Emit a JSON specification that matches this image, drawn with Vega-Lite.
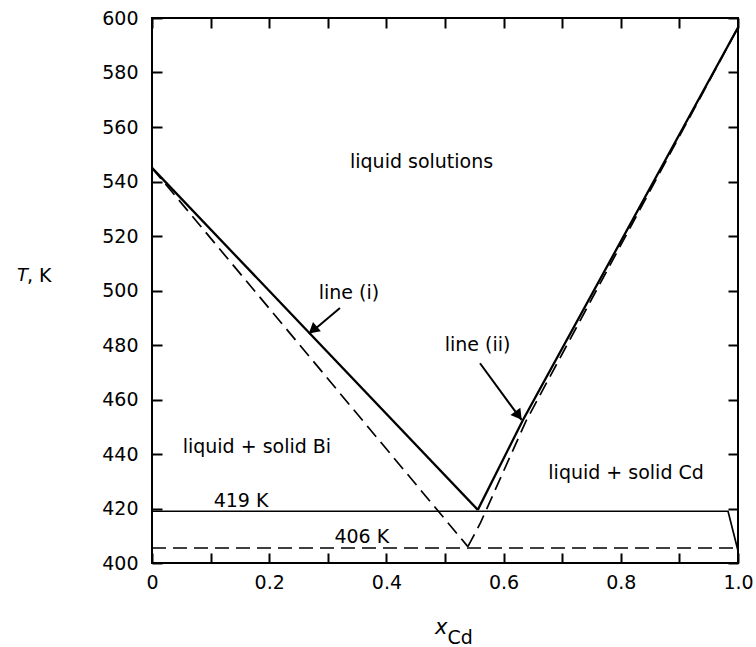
{
  "$schema": "https://vega.github.io/schema/vega-lite/v6.json",
  "width": 586,
  "height": 545,
  "autosize": {"type": "none"},
  "padding": {"left": 152, "top": 18, "right": 18, "bottom": 84},
  "background": "white",
  "config": {
    "view": {"stroke": "black", "strokeWidth": 2},
    "font": "DejaVu Sans"
  },
  "datasets": {
    "curves": [
      {"curve": "liquidus Bi", "x": 0, "T": 545, "i": 0},
      {"curve": "liquidus Bi", "x": 0.556, "T": 419.5, "i": 1},
      {"curve": "liquidus Cd", "x": 0.556, "T": 419.5, "i": 0},
      {"curve": "liquidus Cd", "x": 0.633, "T": 452.5, "i": 1},
      {"curve": "liquidus Cd", "x": 1.0, "T": 596.5, "i": 2},
      {"curve": "eutectic 419 K", "x": 0, "T": 419, "i": 0},
      {"curve": "eutectic 419 K", "x": 0.983, "T": 419, "i": 1},
      {"curve": "eutectic 419 K", "x": 1.0, "T": 404.5, "i": 2},
      {"curve": "ideal liquidus Bi", "x": 0, "T": 545, "i": 0},
      {"curve": "ideal liquidus Bi", "x": 0.539, "T": 406, "i": 1},
      {"curve": "ideal liquidus Cd", "x": 0.539, "T": 406, "i": 0},
      {"curve": "ideal liquidus Cd", "x": 0.56, "T": 414.5, "i": 1},
      {"curve": "ideal liquidus Cd", "x": 0.638, "T": 452, "i": 2},
      {"curve": "ideal liquidus Cd", "x": 1.0, "T": 596.5, "i": 3},
      {"curve": "ideal eutectic 406 K", "x": 0, "T": 405.5, "i": 0},
      {"curve": "ideal eutectic 406 K", "x": 1.0, "T": 405.5, "i": 1}
    ],
    "arrows": [
      {"arrow": "i", "x": 0.3208, "T": 493.6, "i": 0},
      {"arrow": "i", "x": 0.268, "T": 484.0, "i": 1},
      {"arrow": "ii", "x": 0.5597, "T": 473.3, "i": 0},
      {"arrow": "ii", "x": 0.6306, "T": 452.5, "i": 1}
    ],
    "heads": [
      {"arrow": "i", "x": 0.2745, "T": 485.5},
      {"arrow": "ii", "x": 0.6255, "T": 454.1}
    ],
    "labels": [
      {"label": "liquid solutions", "x": 0.46, "T": 547.2},
      {"label": "line (i)", "x": 0.336, "T": 499.1},
      {"label": "line (ii)", "x": 0.5555, "T": 480},
      {"label": "liquid + solid Bi", "x": 0.179, "T": 442.6},
      {"label": "liquid + solid Cd", "x": 0.809, "T": 433},
      {"label": "419 K", "x": 0.152, "T": 422.8},
      {"label": "406 K", "x": 0.358, "T": 409.5}
    ],
    "titleItalic": [
      {"label": "x", "x": 0.4935, "T": 376.0},
      {"label": "T", "x": -0.2116, "T": 505.3}
    ],
    "titleRegular": [
      {"label": "Cd", "x": 0.5044, "T": 372.3},
      {"label": ", K", "x": -0.2133, "T": 505.3}
    ]
  },
  "resolve": {"axis": {"x": "independent", "y": "independent"}},
  "layer": [
    {
      "encoding": {
        "x": {
          "field": "x", "type": "quantitative",
          "scale": {"domain": [0, 1], "nice": false, "zero": false},
          "axis": {
            "orient": "bottom",
            "title": null,
            "grid": false,
            "domain": false,
            "ticks": true,
            "tickColor": "black",
            "tickWidth": 2,
            "tickSize": 10,
            "offset": -10,
            "labelColor": "black",
            "labelFont": "DejaVu Sans",
            "labelFontSize": 19,
            "labelFlush": false,
            "values": [0, 0.1, 0.2, 0.3, 0.4, 0.5, 0.6, 0.7, 0.8, 0.9, 1.0],
            "labelExpr": "abs(datum.value*10 - 2*round(datum.value*5)) < 0.01 ? (datum.value == 0 ? '0' : format(datum.value, '.1f')) : ''",
            "labelPadding": 10
          }
        },
        "y": {
          "field": "T", "type": "quantitative",
          "scale": {"domain": [400, 600], "nice": false, "zero": false},
          "axis": {
            "orient": "left",
            "title": null,
            "grid": false,
            "domain": false,
            "ticks": true,
            "tickColor": "black",
            "tickWidth": 2,
            "tickSize": 10,
            "offset": -10,
            "labelColor": "black",
            "labelFont": "DejaVu Sans",
            "labelFontSize": 19,
            "labelFlush": false,
            "values": [400, 420, 440, 460, 480, 500, 520, 540, 560, 580, 600],
            "labelPadding": 14
          }
        }
      },
      "layer": [
        {
          "data": {"name": "curves"},
          "transform": [{"filter": {"field": "curve", "oneOf": ["liquidus Bi", "liquidus Cd"]}}],
          "mark": {"type": "line", "color": "black", "strokeWidth": 2.3},
          "encoding": {"detail": {"field": "curve"}, "order": {"field": "i"}}
        },
        {
          "data": {"name": "curves"},
          "transform": [{"filter": {"field": "curve", "equal": "eutectic 419 K"}}],
          "mark": {"type": "line", "color": "black", "strokeWidth": 1.7},
          "encoding": {"detail": {"field": "curve"}, "order": {"field": "i"}}
        },
        {
          "data": {"name": "curves"},
          "transform": [{"filter": {"field": "curve", "oneOf": ["ideal liquidus Bi", "ideal liquidus Cd", "ideal eutectic 406 K"]}}],
          "mark": {"type": "line", "color": "black", "strokeWidth": 1.7, "strokeDash": [14, 7]},
          "encoding": {"detail": {"field": "curve"}, "order": {"field": "i"}}
        },
        {
          "data": {"name": "arrows"},
          "mark": {"type": "line", "color": "black", "strokeWidth": 2},
          "encoding": {"detail": {"field": "arrow"}, "order": {"field": "i"}}
        },
        {
          "data": {"name": "heads"},
          "transform": [{"filter": {"field": "arrow", "equal": "i"}}],
          "mark": {"type": "point", "shape": "triangle-up", "filled": true, "size": 150, "angle": 230, "color": "black", "opacity": 1}
        },
        {
          "data": {"name": "heads"},
          "transform": [{"filter": {"field": "arrow", "equal": "ii"}}],
          "mark": {"type": "point", "shape": "triangle-up", "filled": true, "size": 150, "angle": 143.7, "color": "black", "opacity": 1}
        },
        {
          "data": {"name": "labels"},
          "mark": {"type": "text", "font": "DejaVu Sans", "fontSize": 19, "align": "center", "baseline": "middle", "color": "black"},
          "encoding": {"text": {"field": "label"}}
        },
        {
          "data": {"name": "titleItalic"},
          "transform": [{"filter": {"field": "label", "equal": "x"}}],
          "mark": {"type": "text", "font": "DejaVu Sans", "fontStyle": "italic", "fontSize": 21, "align": "center", "baseline": "middle", "color": "black"},
          "encoding": {"text": {"field": "label"}}
        },
        {
          "data": {"name": "titleItalic"},
          "transform": [{"filter": {"field": "label", "equal": "T"}}],
          "mark": {"type": "text", "font": "DejaVu Sans", "fontStyle": "italic", "fontSize": 18, "align": "right", "baseline": "middle", "color": "black"},
          "encoding": {"text": {"field": "label"}}
        },
        {
          "data": {"name": "titleRegular"},
          "mark": {"type": "text", "font": "DejaVu Sans", "fontSize": 19, "align": "left", "baseline": "middle", "color": "black"},
          "encoding": {"text": {"field": "label"}}
        }
      ]
    },
    {
      "data": {"name": "curves"},
      "mark": {"type": "point", "opacity": 0},
      "encoding": {
        "x": {
          "field": "x", "type": "quantitative",
          "scale": {"domain": [0, 1], "nice": false, "zero": false},
          "axis": {"orient": "top", "title": null, "labels": false, "grid": false, "domain": false, "ticks": true, "tickColor": "black", "tickWidth": 2, "tickSize": 10, "offset": -10, "values": [0, 0.1, 0.2, 0.3, 0.4, 0.5, 0.6, 0.7, 0.8, 0.9, 1.0]}
        },
        "y": {
          "field": "T", "type": "quantitative",
          "scale": {"domain": [400, 600], "nice": false, "zero": false},
          "axis": {"orient": "right", "title": null, "labels": false, "grid": false, "domain": false, "ticks": true, "tickColor": "black", "tickWidth": 2, "tickSize": 10, "offset": -10, "values": [400, 420, 440, 460, 480, 500, 520, 540, 560, 580, 600]}
        }
      }
    }
  ]
}
